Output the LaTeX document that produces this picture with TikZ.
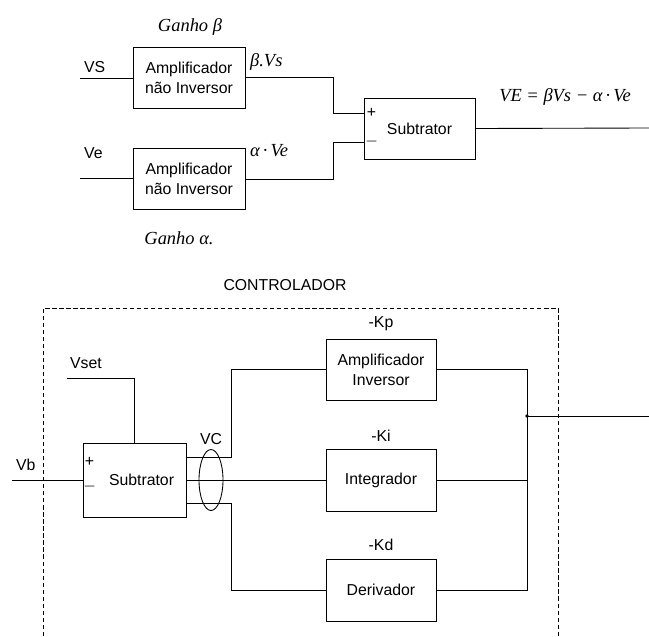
\documentclass[tikz,border=0pt]{standalone}
\usepackage{amsmath}
\usepackage{fontspec}
\setmainfont{Liberation Sans}
\newfontfamily\gainfont{Liberation Serif}
\usetikzlibrary{calc,positioning,shapes.geometric}

\begin{document}
\begin{tikzpicture}[x=0.02cm,y=-0.02cm,line width=0.5pt,
  blk/.style={draw,align=center,font=\fontsize{9}{11.4}\selectfont,minimum width=#1,minimum height=1.22cm,inner sep=1pt},
  blk/.default=2.24cm,
  txt/.style={font=\fontsize{9}{11}\selectfont,inner sep=1pt},
  sgn/.style={font=\fontsize{9}{11}\selectfont,inner sep=0pt},
  gain/.style={font=\gainfont\itshape\fontsize{10.5}{12}\selectfont,inner sep=1pt}]
  \useasboundingbox (0,0) rectangle (649,636);

  % --- medida de VE
  \node[blk] (ampS) at (189,77.5) {Amplificador\\não Inversor};
  \node[blk] (ampE) at (189,179) {Amplificador\\não Inversor};
  \node[blk=2.22cm] (subA) at (419.5,128.5) {Subtrator};
  \coordinate (inS) at (80,78);
  \coordinate (inE) at (80,178);
  \coordinate (outA) at (649,128);
  \coordinate (pA) at ($(subA.west)+(0,-15.5)$);
  \coordinate (mA) at ($(subA.west)+(0,13.5)$);
  \node[txt,anchor=west] at (82,67) {VS};
  \node[txt,anchor=west] at (82,153) {Ve};
  \node[gain] at (190,27) {Ganho β};
  \node[gain] at (179,238) {Ganho α.};
  \node[gain,anchor=west] at (248,62) {β.Vs};
  \node[gain,anchor=west] at (248,151) {α\,·\,Ve};
  \node[gain] at (565,97) {VE = βVs − α\,·\,Ve};
  \node[sgn] at ($(pA)+(8,0)$) {+};
  \node[sgn] at ($(mA)+(8,0)$) {$-$};
  \draw (inS) -- (inS -| ampS.west);
  \draw (inE) -- (inE -| ampE.west);
  \draw (ampS.east) -- ++(88,0) |- (pA);
  \draw (ampE.east) -- ++(88,0) |- (mA);
  \draw (subA.east) -- (outA);

  % --- controlador
  \node[txt] at (285,285) {CONTROLADOR};
  \draw[dash pattern=on 2.4pt off 1.6pt] (43,636) |- (558,308) -- (558,636);
  \node[blk=2.06cm,minimum height=1.48cm] (subB) at (134.5,480) {\hspace*{8pt}Subtrator};
  \node[blk=2.2cm] (kp) at (381,369.5) {Amplificador\\Inversor};
  \node[blk=2.2cm,minimum height=1.24cm] (ki) at (381,480) {Integrador};
  \node[blk=2.2cm,minimum height=1.24cm] (kd) at (381,590) {Derivador};
  \node[txt,above=3pt of kp] {-Kp};
  \node[txt,above=3pt of ki] {-Ki};
  \node[txt,above=3pt of kd] {-Kd};
  \coordinate (vset) at (67,378);
  \coordinate (vb) at (12,480);
  \coordinate (sum) at (527,416);
  \coordinate (outB) at (649,416);
  \node[txt,anchor=west] at (68,363) {Vset};
  \node[txt,anchor=west] at (14,465) {Vb};
  \node[sgn] at ($(subB.west)+(7,-18)$) {+};
  \node[sgn] at ($(subB.west)+(7,7)$) {$-$};
  \draw (vset) -| (subB.north);
  \draw (vb) -- (subB.west);
  \draw ($(subB.east)+(0,-23)$) -- ++(45,0) |- (kp.west);
  \draw (subB.east) -- (ki.west);
  \draw ($(subB.east)+(0,23)$) -- ++(45,0) |- (kd.west);
  \node[draw,ellipse,minimum width=0.48cm,minimum height=1.22cm,inner sep=0pt] (vc) at (211,480) {};
  \node[txt,above=1pt of vc] {VC};
  \draw (kp.east) -- (kp.east -| sum) -- (kd.east -| sum) -- (kd.east);
  \draw (ki.east) -- (ki.east -| sum);
  \fill (sum) circle (1.1pt);
  \draw (sum) -- (outB);
\end{tikzpicture}
\end{document}
